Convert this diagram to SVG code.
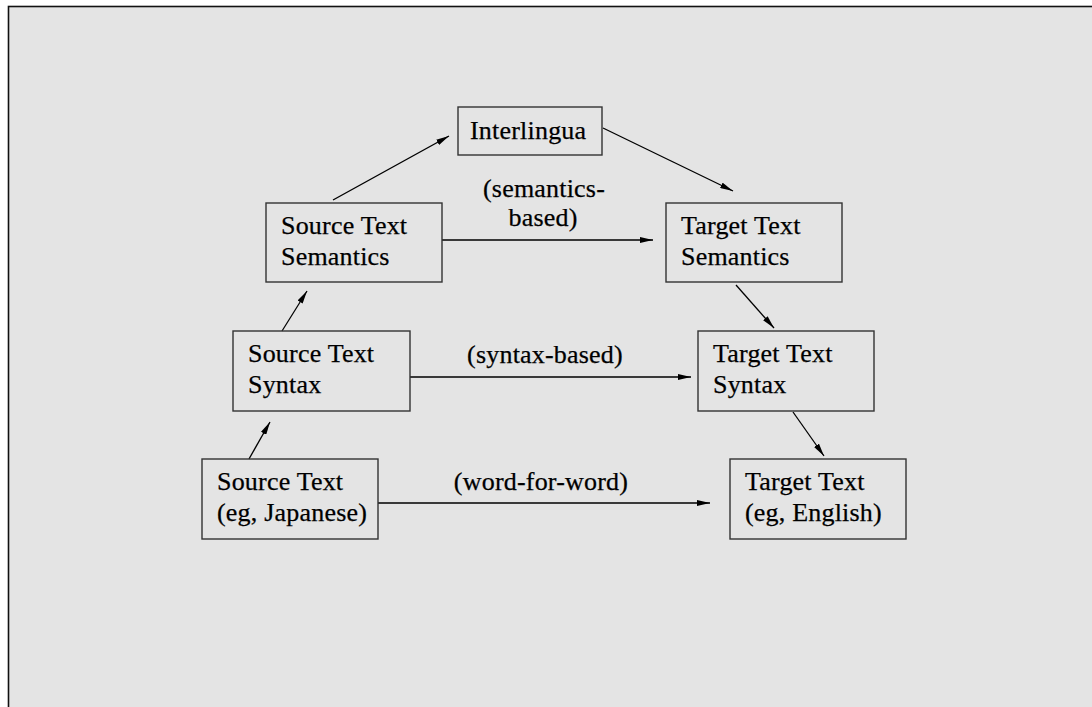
<svg xmlns="http://www.w3.org/2000/svg" width="1092" height="707" viewBox="0 0 1092 707">
  <defs>
    <marker id="arrow" viewBox="0 0 13 6" refX="13" refY="3" markerWidth="13" markerHeight="6" markerUnits="userSpaceOnUse" orient="auto">
      <path d="M0,0 L13,3 L0,6 Z" fill="#000"/>
    </marker>
    <style>
      .box { fill: none; stroke: #333; stroke-width: 1.4; }
      .lbl { font-family: "Liberation Serif", "Times New Roman", serif; font-size: 26px; letter-spacing: 0.2px; fill: #000; stroke: #000; stroke-width: 0.25; }
      .mid { text-anchor: middle; }
      .edge { stroke: #000; stroke-width: 1.3; fill: none; marker-end: url(#arrow); }
    </style>
  </defs>

  <!-- page -->
  <rect x="0" y="0" width="1092" height="707" fill="#fff"/>
  <rect x="8.5" y="6.5" width="1100" height="720" fill="#e4e4e4" stroke="#111" stroke-width="1.6"/>

  <!-- connectors -->
  <g id="connectors">
    <line class="edge" x1="333" y1="200" x2="449" y2="136"/>
    <line class="edge" x1="603" y1="128" x2="733" y2="191"/>
    <line class="edge" x1="442" y1="240" x2="653" y2="240"/>
    <line class="edge" x1="736" y1="285" x2="774" y2="328"/>
    <line class="edge" x1="282" y1="331" x2="307" y2="291"/>
    <line class="edge" x1="249" y1="459" x2="270" y2="422"/>
    <line class="edge" x1="410" y1="377" x2="691" y2="377"/>
    <line class="edge" x1="793" y1="412" x2="824" y2="456"/>
    <line class="edge" x1="378" y1="503" x2="710" y2="503"/>
    <text class="lbl mid" x="544" y="197">(semantics-</text>
    <text class="lbl mid" x="543" y="226">based)</text>
    <text class="lbl mid" x="545" y="363">(syntax-based)</text>
    <text class="lbl mid" x="541" y="490">(word-for-word)</text>
  </g>

  <g id="interlingua">
    <rect class="box" x="458" y="107" width="144" height="48"/>
    <text class="lbl" x="470" y="139">Interlingua</text>
  </g>

  <g id="source-semantics">
    <rect class="box" x="266" y="203" width="176" height="79"/>
    <text class="lbl" x="281" y="234">Source Text</text>
    <text class="lbl" x="281" y="265">Semantics</text>
  </g>

  <g id="target-semantics">
    <rect class="box" x="666" y="203" width="176" height="79"/>
    <text class="lbl" x="681" y="234">Target Text</text>
    <text class="lbl" x="681" y="265">Semantics</text>
  </g>

  <g id="source-syntax">
    <rect class="box" x="233" y="331" width="177" height="80"/>
    <text class="lbl" x="248" y="362">Source Text</text>
    <text class="lbl" x="248" y="393">Syntax</text>
  </g>

  <g id="target-syntax">
    <rect class="box" x="698" y="331" width="176" height="80"/>
    <text class="lbl" x="713" y="362">Target Text</text>
    <text class="lbl" x="713" y="393">Syntax</text>
  </g>

  <g id="source-text">
    <rect class="box" x="202" y="459" width="176" height="80"/>
    <text class="lbl" x="217" y="490">Source Text</text>
    <text class="lbl" x="217" y="521">(eg, Japanese)</text>
  </g>

  <g id="target-text">
    <rect class="box" x="730" y="459" width="176" height="80"/>
    <text class="lbl" x="745" y="490">Target Text</text>
    <text class="lbl" x="745" y="521">(eg, English)</text>
  </g>
</svg>
